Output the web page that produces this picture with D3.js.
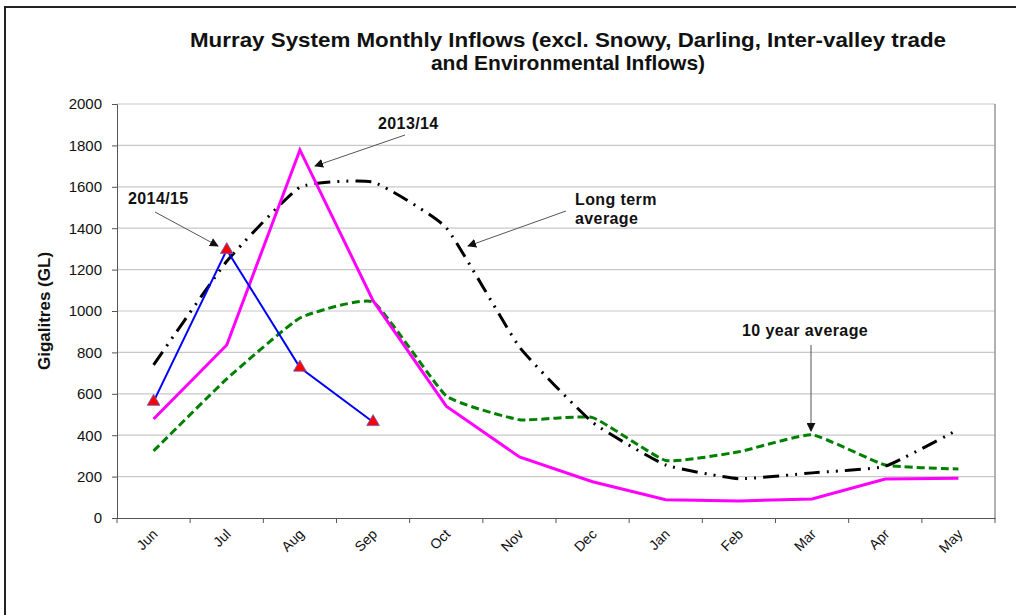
<!DOCTYPE html>
<html>
<head>
<meta charset="utf-8">
<script src="https://cdn.jsdelivr.net/npm/d3@7"></script>
<style>
  body { margin: 0; background: #fff; }
  svg { font-family: "Liberation Sans", Arial, sans-serif; }
</style>
</head>
<body>
<svg id="chart" width="1016" height="615"></svg>
<script>
const months = ["Jun", "Jul", "Aug", "Sep", "Oct", "Nov", "Dec", "Jan", "Feb", "Mar", "Apr", "May"];
const yTicks = [0, 200, 400, 600, 800, 1000, 1200, 1400, 1600, 1800, 2000];
const inflows1415 = [562, 1295, 727, 464];
const inflows1314 = [478, 836, 1778, 1050, 540, 295, 175, 88, 82, 92, 188, 192];
const tenYearAvg = [324, 672, 966, 1043, 590, 475, 485, 278, 320, 402, 256, 237];
const longTermAvg = [740, 1240, 1598, 1623, 1402, 826, 462, 256, 190, 218, 250, 428];

const svg = d3.select("#chart");
const m = {left: 117, right: 995, top: 104, bottom: 518};

// outer frame
svg.append("path").attr("d", "M5,615 V7 H1016")
  .attr("fill", "none").attr("stroke", "#222").attr("stroke-width", 2);

const x = d3.scaleBand().domain(months).range([m.left, m.right]);
const y = d3.scaleLinear().domain([0, 2000]).range([m.bottom, m.top]);
const cx = d => x(d) + x.bandwidth() / 2;

// gridlines
svg.append("g").selectAll("line").data(yTicks.slice(1)).join("line")
  .attr("x1", m.left).attr("x2", m.right)
  .attr("y1", d => y(d)).attr("y2", d => y(d))
  .attr("stroke", "#c8c8c8").attr("stroke-width", 1.2);
svg.append("line").attr("x1", m.right).attr("x2", m.right).attr("y1", m.top).attr("y2", m.bottom)
  .attr("stroke", "#999").attr("stroke-width", 1.5);

// y axis
const yAxis = svg.append("g").attr("transform", `translate(${m.left},0)`)
  .call(d3.axisLeft(y).tickValues(yTicks).tickSize(5).tickPadding(10).tickFormat(d3.format("d")));
yAxis.selectAll("text").attr("font-size", 15).attr("fill", "#111");
yAxis.select(".domain").attr("stroke", "#555");
yAxis.selectAll(".tick line").attr("stroke", "#555");

// x axis
const xAxis = svg.append("g").attr("transform", `translate(0,${m.bottom})`)
  .call(d3.axisBottom(x).tickSize(0).tickFormat(""));
xAxis.select(".domain").attr("stroke", "#555");
svg.append("g").selectAll("line").data(months.concat(["end"])).join("line")
  .attr("x1", (d, i) => m.left + i * x.step()).attr("x2", (d, i) => m.left + i * x.step())
  .attr("y1", m.bottom).attr("y2", m.bottom + 5).attr("stroke", "#555");
svg.append("g").selectAll("text").data(months).join("text")
  .attr("transform", d => `translate(${cx(d) + 5},${m.bottom + 17}) rotate(-45)`)
  .attr("text-anchor", "end").attr("font-size", 14).attr("fill", "#111").text(d => d);

// title
svg.append("text").attr("x", 568).attr("y", 47).attr("text-anchor", "middle")
  .attr("font-size", 21).attr("font-weight", "bold").attr("fill", "#111")
  .attr("textLength", 756).attr("lengthAdjust", "spacingAndGlyphs")
  .text("Murray System Monthly Inflows (excl. Snowy, Darling, Inter-valley trade");
svg.append("text").attr("x", 568).attr("y", 70).attr("text-anchor", "middle")
  .attr("font-size", 21).attr("font-weight", "bold").attr("fill", "#111")
  .text("and Environmental Inflows)");

svg.append("text").attr("transform", "translate(50,311) rotate(-90)")
  .attr("text-anchor", "middle").attr("font-size", 17).attr("font-weight", "bold")
  .attr("fill", "#111").text("Gigalitres (GL)");

// series
const line = d3.line().x((d, i) => cx(months[i])).y(d => y(d));
const smooth = d3.line().x((d, i) => cx(months[i])).y(d => y(d)).curve(d3.curveCardinal.tension(0.6));

svg.append("path").datum(tenYearAvg).attr("d", smooth).attr("fill", "none")
  .attr("stroke", "#008000").attr("stroke-width", 3).attr("stroke-dasharray", "8,4");
svg.append("path").datum(longTermAvg).attr("d", smooth).attr("fill", "none")
  .attr("stroke", "#000").attr("stroke-width", 3).attr("stroke-dasharray", "16,7,2,7,2,7");
svg.append("path").datum(inflows1314).attr("d", line).attr("fill", "none")
  .attr("stroke", "#ff00ff").attr("stroke-width", 3);
svg.append("path").datum(inflows1415).attr("d", line).attr("fill", "none")
  .attr("stroke", "#0000ff").attr("stroke-width", 2);
svg.append("g").selectAll("path").data(inflows1415).join("path")
  .attr("d", d3.symbol(d3.symbolTriangle, 70))
  .attr("transform", (d, i) => `translate(${cx(months[i])},${y(d)})`)
  .attr("fill", "#ff0000").attr("stroke", "#6060c0").attr("stroke-width", 0.8);

// annotations
svg.append("defs").append("marker").attr("id", "arr").attr("viewBox", "0 0 10 10")
  .attr("refX", 9).attr("refY", 5).attr("markerWidth", 9).attr("markerHeight", 9)
  .attr("orient", "auto").attr("markerUnits", "userSpaceOnUse")
  .append("path").attr("d", "M0,0 L10,5 L0,10 z").attr("fill", "#111");

const notes = [
  {lines: ["2013/14"], tx: 378, ty: 129, from: [405, 135], to: [315, 166]},
  {lines: ["2014/15"], tx: 128, ty: 204, from: [155, 212], to: [218, 246]},
  {lines: ["Long term", "average"], tx: 575, ty: 205, from: [566, 211], to: [468, 246]},
  {lines: ["10 year average"], tx: 742, ty: 336, from: [811, 345], to: [811, 431]}
];
notes.forEach(n => {
  svg.append("line").attr("x1", n.from[0]).attr("y1", n.from[1]).attr("x2", n.to[0]).attr("y2", n.to[1])
    .attr("stroke", "#555").attr("stroke-width", 1).attr("marker-end", "url(#arr)");
  n.lines.forEach((t, i) => svg.append("text").attr("x", n.tx).attr("y", n.ty + i * 19)
    .attr("font-size", 16).attr("font-weight", "bold").attr("letter-spacing", 0.4)
    .attr("fill", "#111").text(t));
});
</script>
</body>
</html>
